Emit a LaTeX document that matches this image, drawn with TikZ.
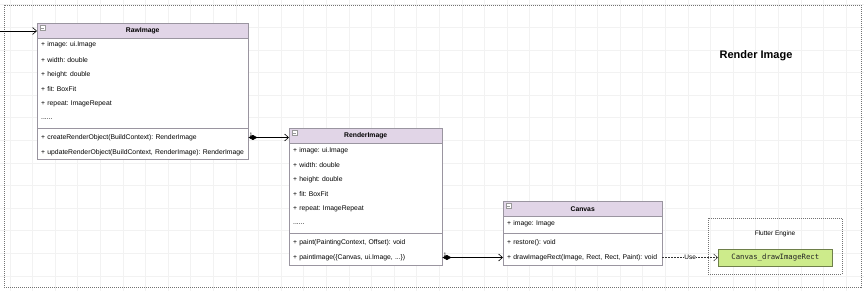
\documentclass[tikz,border=0pt]{standalone}
\usepackage{fontspec}
\setmainfont{Liberation Sans}
\newfontfamily\monofont{DejaVu Sans Mono}
\usetikzlibrary{arrows.meta}
\definecolor{hdrfill}{HTML}{E1D5E7}
\definecolor{boxline}{HTML}{9A95A0}
\definecolor{greenfill}{HTML}{CDEB8B}
\definecolor{greenline}{HTML}{6E7F4A}
\definecolor{gridcol}{HTML}{F2F2F2}
\frenchspacing
\newcommand{\rt}[1]{\mbox{#1}}
\tikzset{
  hdr/.style={draw=boxline, fill=hdrfill, anchor=north west, minimum height=15pt, inner sep=0pt, font=\fontsize{6.8}{8}\selectfont\bfseries},
  sect/.style={draw=boxline, fill=white, anchor=north west, inner sep=0pt},
  row/.style={anchor=west, inner xsep=4pt, inner ysep=0pt, align=left, font=\fontsize{6.8}{8}\selectfont\frenchspacing},
  assoc/.style={draw=black, line width=0.6pt, {Diamond[length=9pt,width=5pt]}-{Straight Barb[length=4pt,width=7pt]}},
  uselink/.style={draw=black!80, line width=0.5pt, dash pattern=on 1.5pt off 1.5pt, -{Straight Barb[length=4pt,width=7pt]}},
  frame/.style={draw=black!55, line width=0.6pt, dash pattern=on 1pt off 1pt},
  mult/.style={font=\fontsize{5}{6}\selectfont, inner sep=1pt},
  collapse/.style={draw=black!40, fill=white, line width=0.3pt}
}
\begin{document}
\begin{tikzpicture}[x=1pt,y=-1pt]
\useasboundingbox (0,0) rectangle (864,291);
% faint grid
\foreach \gx in {9.8,32.4,...,864} {\draw[gridcol, line width=0.5pt] (\gx,0) -- (\gx,291);}
\foreach \gy in {4.6,27.2,...,291} {\draw[gridcol, line width=0.5pt] (0,\gy) -- (864,\gy);}

% outer frame
\draw[frame] (4,5) rectangle (861,287);
\node[font=\fontsize{11}{13}\selectfont\bfseries] (title) at (756,56) {Render Image};

% ---- RawImage ----
\node[hdr, minimum width=211pt] (raw) at (37,23) {RawImage};
\node[sect, minimum width=211pt, minimum height=90pt] (rawattr) at (37,38) {};
\node[sect, minimum width=211pt, minimum height=31pt] (rawmeth) at (37,128) {};
\draw[collapse] (40,25.5) rectangle (45,30.5); \draw[black!40, line width=0.3pt] (41,28) -- (44,28);
\node[row, text width=203pt] (raw-a1) at (37,45) {\rt{+ image: ui.Image}};
\node[row, text width=203pt] (raw-a2) at (37,60) {\rt{+ width: double}};
\node[row, text width=203pt] (raw-a3) at (37,75) {\rt{+ height: double}};
\node[row, text width=203pt] (raw-a4) at (37,89.5) {\rt{+ fit: BoxFit}};
\node[row, text width=203pt] (raw-a5) at (37,104) {\rt{+ repeat: ImageRepeat}};
\node[row, text width=203pt] (raw-a6) at (37,119) {\rt{......}};
\node[row, text width=203pt] (raw-m1) at (37,137.5) {\rt{+ createRenderObject(BuildContext): RenderImage}};
\node[row, text width=203pt] (raw-m2) at (37,153) {\rt{+ updateRenderObject(BuildContext, RenderImage): RenderImage}};

% ---- RenderImage ----
\node[hdr, minimum width=153pt] (ri) at (289,128) {RenderImage};
\node[sect, minimum width=153pt, minimum height=90pt] (riattr) at (289,143) {};
\node[sect, minimum width=153pt, minimum height=32pt] (rimeth) at (289,233) {};
\draw[collapse] (292,130.5) rectangle (297,135.5); \draw[black!40, line width=0.3pt] (293,133) -- (296,133);
\node[row, text width=145pt] (ri-a1) at (289,151) {\rt{+ image: ui.Image}};
\node[row, text width=145pt] (ri-a2) at (289,165) {\rt{+ width: double}};
\node[row, text width=145pt] (ri-a3) at (289,180) {\rt{+ height: double}};
\node[row, text width=145pt] (ri-a4) at (289,194.5) {\rt{+ fit: BoxFit}};
\node[row, text width=145pt] (ri-a5) at (289,209) {\rt{+ repeat: ImageRepeat}};
\node[row, text width=145pt] (ri-a6) at (289,224) {\rt{......}};
\node[row, text width=145pt] (ri-m1) at (289,243) {\rt{+ paint(PaintingContext, Offset): void}};
\node[row, text width=145pt] (ri-m2) at (289,257.5) {\rt{+ paintImage(\{Canvas, ui.Image, ...\})}};

% ---- Canvas ----
\node[hdr, minimum width=159pt] (cv) at (503,201) {Canvas};
\node[sect, minimum width=159pt, minimum height=17pt] (cvattr) at (503,216) {};
\node[sect, minimum width=159pt, minimum height=32pt] (cvmeth) at (503,233) {};
\draw[collapse] (506,203.5) rectangle (511,208.5); \draw[black!40, line width=0.3pt] (507,206) -- (510,206);
\node[row, text width=151pt] (cv-a1) at (503,224) {\rt{+ image: Image}};
\node[row, text width=151pt] (cv-m1) at (503,243) {\rt{+ restore(): void}};
\node[row, text width=151pt] (cv-m2) at (503,257.5) {\rt{+ drawImageRect(Image, Rect, Rect, Paint): void}};

% ---- Flutter Engine ----
\draw[frame] (708,218) rectangle (842,274);
\node[font=\fontsize{6.5}{8}\selectfont] (fe) at (775,234) {Flutter Engine};
\node[draw=greenline, fill=greenfill, line width=0.6pt, minimum width=114pt, minimum height=17pt, inner sep=0pt, anchor=north west, font=\monofont\fontsize{7.3}{9}\selectfont, text=black!85] (native) at (718,249) {Canvas\_drawImageRect};

% ---- connectors ----
\coordinate (entry) at (0,31);
\draw[draw=black, line width=0.6pt, -{Straight Barb[length=4pt,width=7pt]}] (entry) -- (entry -| raw.west);
\draw[assoc] (raw-m1.east) -- (raw-m1.east -| ri.west);
\node[mult, anchor=south west] at (raw-m1.east) {1};
\draw[assoc] (ri-m2.east) -- (ri-m2.east -| cv.west);
\node[mult, anchor=south west] at (ri-m2.east) {1};
\draw[uselink] (cv-m2.east) -- node[fill=white, inner sep=0.5pt, font=\fontsize{6.5}{8}\selectfont] {Use} (cv-m2.east -| native.west);
\end{tikzpicture}
\end{document}
